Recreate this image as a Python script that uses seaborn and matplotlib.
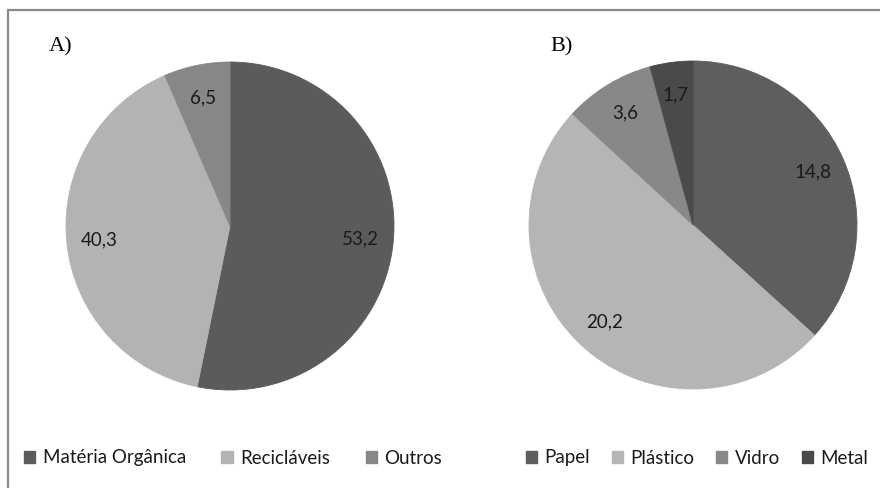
import matplotlib
matplotlib.use("Agg")
import matplotlib.pyplot as plt
from matplotlib.patches import Patch, Rectangle
import seaborn as sns

# Composição dos resíduos (%)
cat_a = ["Matéria Orgânica", "Recicláveis", "Outros"]
val_a = [53.2, 40.3, 6.5]
col_a = ["#5b5b5b", "#b3b3b3", "#878787"]

# Composição dos recicláveis (% do total)
cat_b = ["Papel", "Plástico", "Vidro", "Metal"]
val_b = [14.8, 20.2, 3.6, 1.7]
col_b = ["#5e5e5e", "#b5b5b5", "#888888", "#4a4a4a"]

panel_titles = ["A)", "B)"]

sns.set_theme(style="white")
plt.rcParams["font.family"] = ["Lato", "DejaVu Sans"]

W, H = 880, 488
fig = plt.figure(figsize=(W / 100, H / 100), dpi=100)
fig.patch.set_facecolor("white")


def px_axes(cx, cy, r):
    return [(cx - r) / W, (H - (cy + r)) / H, 2 * r / W, 2 * r / H]


def fmt(values):
    total = sum(values)
    return lambda p: f"{p * total / 100:.1f}".replace(".", ",")


def draw_pie(ax, values, colors):
    wedges, _, _ = ax.pie(values, colors=colors, startangle=90,
                          counterclock=False, radius=1.0,
                          autopct=fmt(values), pctdistance=0.8,
                          wedgeprops=dict(linewidth=0.6),
                          textprops=dict(color="#1a1a1a", fontsize=13.5))
    for w in wedges:
        w.set_edgecolor(w.get_facecolor())
    ax.set_xlim(-1, 1)
    ax.set_ylim(-1, 1)
    ax.set_aspect("equal")
    ax.axis("off")


ax_a = fig.add_axes(px_axes(230, 226, 164))
draw_pie(ax_a, val_a, col_a)
ax_b = fig.add_axes(px_axes(693, 225, 164))
draw_pie(ax_b, val_b, col_b)

# Panel letters
for x_px, t in zip([49, 550], panel_titles):
    fig.text(x_px / W, 1 - 47 / H, t, family="Liberation Serif",
             fontsize=16, color="black", va="center", ha="left")

# Legends
def add_legend(cats, colors, cx_px, spacing):
    handles = [Patch(facecolor=c, edgecolor=c) for c in colors]
    fig.legend(handles, cats, loc="center", ncol=len(cats),
               bbox_to_anchor=(cx_px / W, 1 - 458 / H), frameon=False,
               handlelength=0.6, handleheight=0.6, handletextpad=0.4,
               columnspacing=spacing, fontsize=13.5, labelcolor="#1a1a1a",
               borderpad=0.0)


add_legend(cat_a, col_a, 233, 1.9)
add_legend(cat_b, col_b, 697, 1.15)

# Outer frame (left and top edges visible)
fig.add_artist(Rectangle((8 / W, -0.05), 1.2, 1 - 10 / H + 0.05,
                         transform=fig.transFigure, fill=False,
                         edgecolor="#8a8a8a", linewidth=1.6))

fig.savefig("out.png", dpi=100, facecolor="white")
